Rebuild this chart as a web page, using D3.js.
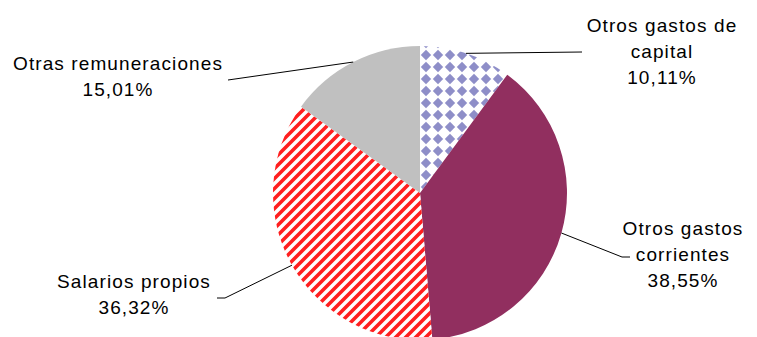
<!DOCTYPE html>
<html>
<head>
<meta charset="utf-8">
<script src="https://cdn.jsdelivr.net/npm/d3@7"></script>
<style>
  body { margin: 0; background: #fff; }
  text { font-family: "Liberation Sans", Arial, sans-serif; font-size: 19px; fill: #000; letter-spacing: 1.1px; }
</style>
</head>
<body>
<div id="chart"></div>
<script>
// Slices, clockwise from 12 o'clock
var categories = ["Otros gastos de capital", "Otros gastos corrientes", "Salarios propios", "Otras remuneraciones"];
var values = [10.11, 38.55, 36.32, 15.01];
var labelLines = [["Otros gastos de", "capital"], ["Otros gastos", "corrientes"], ["Salarios propios"], ["Otras remuneraciones"]];

// Fills for each slice (two are patterns defined below)
var fills = ["url(#diamonds)", "#912f5f", "url(#stripes)", "#c0c0c0"];

// Where each label sits and where its leader line ends
var labelLayout = [
  {x: 662, y: 32, line: [[582, 52]]},
  {x: 683, y: 235, line: [[622, 257], [630, 257]]},
  {x: 134, y: 288, line: [[225, 298], [217, 298]]},
  {x: 118, y: 70, line: [[228, 80]]}
];

var width = 757,
    height = 337,
    cx = 420,
    cy = 193,
    radius = 147,
    lineHeight = 26;

var svg = d3.select("#chart").append("svg")
    .attr("width", width)
    .attr("height", height);

// Patterns
var defs = svg.append("defs");

var diamonds = defs.append("pattern")
    .attr("id", "diamonds")
    .attr("patternUnits", "userSpaceOnUse")
    .attr("width", 12)
    .attr("height", 12);
diamonds.append("rect").attr("width", 12).attr("height", 12).attr("fill", "#fff");
diamonds.append("path")
    .attr("d", "M6,0.8 L11.2,6 L6,11.2 L0.8,6 Z")
    .attr("fill", "#8e8ec8");

var stripes = defs.append("pattern")
    .attr("id", "stripes")
    .attr("patternUnits", "userSpaceOnUse")
    .attr("width", 10)
    .attr("height", 10);
stripes.append("rect").attr("width", 10).attr("height", 10).attr("fill", "#fff");
stripes.append("path")
    .attr("d", "M-3,3 L3,-3 M0,10 L10,0 M7,13 L13,7")
    .attr("stroke", "#ff1f1f")
    .attr("stroke-width", 3.6);

var pie = d3.pie()
    .sort(null)
    .value(function(d) { return d; });

var arcs = pie(values);

var arc = d3.arc()
    .innerRadius(0)
    .outerRadius(radius);

// point on the rim, at the middle of each slice
var rim = d3.arc()
    .innerRadius(radius)
    .outerRadius(radius);

var g = svg.append("g")
    .attr("transform", "translate(" + cx + "," + cy + ")");

g.selectAll(".slice")
    .data(arcs)
  .enter().append("path")
    .attr("class", "slice")
    .attr("d", arc)
    .attr("fill", function(d, i) { return fills[i]; });

// Leader lines
var fmt = d3.format(".2f");
function pct(v) { return fmt(v).replace(".", ",") + "%"; }

svg.selectAll(".leader")
    .data(arcs)
  .enter().append("polyline")
    .attr("class", "leader")
    .attr("fill", "none")
    .attr("stroke", "#000")
    .attr("stroke-width", 1)
    .attr("points", function(d, i) {
      var c = rim.centroid(d);
      var pts = [[cx + c[0], cy + c[1]]].concat(labelLayout[i].line);
      return pts.map(function(p) { return p.join(","); }).join(" ");
    });

// Labels
var labels = svg.selectAll(".label")
    .data(arcs)
  .enter().append("text")
    .attr("class", "label")
    .attr("text-anchor", "middle");

labels.each(function(d, i) {
  var t = d3.select(this),
      lines = labelLines[i].concat([pct(values[i])]);
  lines.forEach(function(s, k) {
    t.append("tspan")
      .attr("x", labelLayout[i].x)
      .attr("y", labelLayout[i].y + k * lineHeight)
      .text(s);
  });
});
</script>
</body>
</html>
